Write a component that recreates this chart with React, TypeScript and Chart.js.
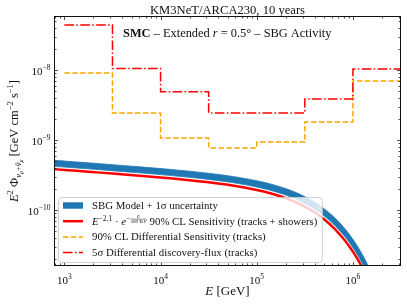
import React, { useEffect, useRef } from 'react';
import { Chart, registerables } from 'chart.js';

Chart.register(...registerables);

// ---------------- data ----------------
const binEdgesGeV = [1e3, 3.162e3, 1e4, 3.162e4, 1e5, 3.162e5, 1e6, 3.162e6];
const discoveryFlux5sigma = [4.4e-8, 1.05e-8, 4.9e-9, 2.43e-9, 2.43e-9, 3.85e-9, 1.03e-8];
const diffSensitivity90 = [9.06e-9, 2.43e-9, 1.07e-9, 7.7e-10, 9.36e-10, 1.81e-9, 6.96e-9];

const curveEnergyGeV = [
  707.9, 1000, 1778, 3162, 5623, 10000, 17783, 31623, 56234, 100000, 141254, 199526,
  281838, 398107, 501187, 630957, 794328, 891251, 1000000, 1122018, 1258925, 1412538,
  1584893, 1778279,
];
const cutoffSensitivity = [
  3.87e-10, 3.737e-10, 3.522e-10, 3.316e-10, 3.115e-10, 2.915e-10, 2.709e-10, 2.488e-10,
  2.236e-10, 1.934e-10, 1.72e-10, 1.479e-10, 1.212e-10, 9.28e-11, 7.38e-11, 5.56e-11,
  3.92e-11, 3.193e-11, 2.54e-11, 1.967e-11, 1.479e-11, 1.075e-11, 7.53e-12, 5.06e-12,
];
const sbgUpper = [
  5.181e-10, 5.003e-10, 4.716e-10, 4.44e-10, 4.173e-10, 3.907e-10, 3.634e-10, 3.343e-10,
  3.013e-10, 2.618e-10, 2.34e-10, 2.025e-10, 1.675e-10, 1.299e-10, 1.046e-10, 7.997e-11,
  5.742e-11, 4.728e-11, 3.807e-11, 2.99e-11, 2.283e-11, 1.689e-11, 1.206e-11, 8.28e-12,
];
const sbgLower = [
  4.248e-10, 4.102e-10, 3.867e-10, 3.64e-10, 3.42e-10, 3.201e-10, 2.976e-10, 2.735e-10,
  2.46e-10, 2.131e-10, 1.899e-10, 1.636e-10, 1.345e-10, 1.035e-10, 8.26e-11, 6.26e-11,
  4.44e-11, 3.63e-11, 2.9e-11, 2.256e-11, 1.706e-11, 1.247e-11, 8.8e-12, 5.95e-12,
];

const xTickExponents = [3, 4, 5, 6];
const yTickExponents = [-10, -9, -8];
const xRange = [780, 3.162e6];
const yRange = [1.585e-11, 5.9e-8];

const titleText = 'KM3NeT/ARCA230, 10 years';
const legendLabels = [
  'SBG Model + 1σ uncertainty',
  '90% CL Sensitivity (tracks + showers)',
  '90% CL Differential Sensitivity (tracks)',
  '5σ Differential discovery-flux (tracks)',
];

// ---------------- helpers ----------------
const SERIF = '"Liberation Serif", "DejaVu Serif", serif';
const f = (size: number, style = '') => `${style} ${size}px ${SERIF}`.trim();

const BLUE = '#1f77b4';
const RED = '#ff0000';
const ORANGE = '#ffa500';

type Seg = { t?: string; f: string; dy?: number; over?: boolean; frac?: [string, string] };

function segWidth(ctx: CanvasRenderingContext2D, s: Seg) {
  ctx.font = s.f;
  if (s.frac) return Math.max(ctx.measureText(s.frac[0]).width, ctx.measureText(s.frac[1]).width) + 1;
  return ctx.measureText(s.t || '').width;
}

function richWidth(ctx: CanvasRenderingContext2D, segs: Seg[]) {
  return segs.reduce((a, s) => a + segWidth(ctx, s), 0);
}

function drawRich(
  ctx: CanvasRenderingContext2D,
  x: number,
  y: number,
  segs: Seg[],
  align: 'left' | 'center' | 'right',
) {
  const widths = segs.map((s) => segWidth(ctx, s));
  const total = widths.reduce((a, b) => a + b, 0);
  let cx = align === 'left' ? x : align === 'center' ? x - total / 2 : x - total;
  ctx.textAlign = 'left';
  ctx.textBaseline = 'alphabetic';
  segs.forEach((s, i) => {
    ctx.font = s.f;
    const dy = s.dy || 0;
    if (s.frac) {
      const w = widths[i];
      const n = ctx.measureText(s.frac[0]).width;
      const d = ctx.measureText(s.frac[1]).width;
      const yc = y + dy;
      ctx.fillText(s.frac[0], cx + (w - n) / 2, yc - 1);
      ctx.fillText(s.frac[1], cx + (w - d) / 2, yc + 4);
      ctx.beginPath();
      ctx.lineWidth = 0.5;
      ctx.moveTo(cx + 0.3, yc);
      ctx.lineTo(cx + w - 0.3, yc);
      ctx.stroke();
    } else {
      ctx.fillText(s.t || '', cx, y + dy);
      if (s.over) {
        ctx.beginPath();
        ctx.lineWidth = 0.6;
        ctx.moveTo(cx + 0.8, y + dy - 5);
        ctx.lineTo(cx + widths[i] - 0.2, y + dy - 5);
        ctx.stroke();
      }
    }
    cx += widths[i];
  });
  return total;
}

const supDigits: Record<string, string> = { '-': '−' };
const expText = (e: number) => String(e).split('').map((c) => supDigits[c] || c).join('');

const decorPlugin = {
  id: 'decor',
  afterDraw(chart: any) {
    const ctx: CanvasRenderingContext2D = chart.ctx;
    const ca = chart.chartArea;
    const xs = chart.scales.x;
    const ys = chart.scales.y;
    ctx.save();
    ctx.fillStyle = '#000';
    ctx.strokeStyle = '#000';

    const L = Math.round(ca.left) + 0.5;
    const R = Math.round(ca.right) - 0.5;
    const T = Math.round(ca.top) + 0.5;
    const B = Math.round(ca.bottom) - 0.5;

    // ---- ticks ----
    ctx.lineWidth = 0.8;
    ctx.strokeStyle = '#222';
    const majorLen = 3.5;
    const minorLen = 2;
    ctx.beginPath();
    for (let e = 2; e <= 6; e++) {
      for (let m = 1; m <= 9; m++) {
        const v = m * Math.pow(10, e);
        if (v < xRange[0] || v > xRange[1]) continue;
        const px = Math.round(xs.getPixelForValue(v)) + 0.5;
        const len = m === 1 ? majorLen : minorLen;
        ctx.moveTo(px, B);
        ctx.lineTo(px, B - len);
        ctx.moveTo(px, T);
        ctx.lineTo(px, T + len);
      }
    }
    for (let e = -12; e <= -8; e++) {
      for (let m = 1; m <= 9; m++) {
        const v = m * Math.pow(10, e);
        if (v < yRange[0] || v > yRange[1]) continue;
        const py = Math.round(ys.getPixelForValue(v)) + 0.5;
        const len = m === 1 ? majorLen : minorLen;
        ctx.moveTo(L, py);
        ctx.lineTo(L + len, py);
        ctx.moveTo(R, py);
        ctx.lineTo(R - len, py);
      }
    }
    ctx.stroke();

    // ---- frame ----
    ctx.lineWidth = 1;
    ctx.strokeStyle = '#111';
    ctx.strokeRect(L, T, R - L, B - T);

    // ---- tick labels ----
    ctx.fillStyle = '#111';
    xTickExponents.forEach((e) => {
      const px = xs.getPixelForValue(Math.pow(10, e));
      drawRich(ctx, px, 283.5, [
        { t: '10', f: f(11) },
        { t: expText(e), f: f(7.5), dy: -5 },
      ], 'center');
    });
    yTickExponents.forEach((e) => {
      const py = ys.getPixelForValue(Math.pow(10, e));
      drawRich(ctx, 50.5, py + 5, [
        { t: '10', f: f(11) },
        { t: expText(e), f: f(7.5), dy: -5 },
      ], 'right');
    });

    // ---- title ----
    drawRich(ctx, (ca.left + ca.right) / 2, 14, [{ t: titleText, f: f(12.6) }], 'center');

    // ---- x label ----
    drawRich(ctx, (ca.left + ca.right) / 2, 295, [
      { t: 'E', f: f(13, 'italic') },
      { t: ' [GeV]', f: f(13) },
    ], 'center');

    // ---- y label ----
    ctx.save();
    ctx.translate(14, (ca.top + ca.bottom) / 2);
    ctx.rotate(-Math.PI / 2);
    drawRich(ctx, 0, 4, [
      { t: 'E', f: f(12.5, 'italic') },
      { t: '2', f: f(8.5), dy: -5 },
      { t: ' Φ', f: f(12.5) },
      { t: 'ν', f: f(8.5, 'italic'), dy: 3 },
      { t: 'μ', f: f(6, 'italic'), dy: 5 },
      { t: '+', f: f(8.5), dy: 3 },
      { t: 'ν', f: f(8.5, 'italic'), dy: 3, over: true },
      { t: 'μ', f: f(6, 'italic'), dy: 5 },
      { t: ' [GeV cm', f: f(12.5) },
      { t: '−2', f: f(8.5), dy: -5 },
      { t: ' s', f: f(12.5) },
      { t: '−1', f: f(8.5), dy: -5 },
      { t: ']', f: f(12.5) },
    ], 'center');
    ctx.restore();

    // ---- annotation ----
    drawRich(ctx, 123, 37, [
      { t: 'SMC', f: f(12.4, 'bold') },
      { t: ' – Extended ', f: f(12.4) },
      { t: 'r', f: f(12.4, 'italic') },
      { t: ' = 0.5° – SBG Activity', f: f(12.4) },
    ], 'left');

    // ---- legend ----
    const fs = 10.8;
    const rows: Seg[][] = [
      [{ t: legendLabels[0], f: f(fs) }],
      [
        { t: 'E', f: f(fs, 'italic') },
        { t: '−2.1', f: f(7.5), dy: -4 },
        { t: ' · ', f: f(fs) },
        { t: 'e', f: f(fs, 'italic') },
        { t: '−', f: f(7.5), dy: -4 },
        { frac: ['E', '500 TeV'], f: f(4.8, 'italic'), dy: -5.5 },
        { t: ' ' + legendLabels[1], f: f(fs) },
      ],
      [{ t: legendLabels[2], f: f(fs) }],
      [{ t: legendLabels[3], f: f(fs) }],
    ];
    const textX = 92;
    const maxW = Math.max(...rows.map((r) => richWidth(ctx, r)));
    const bx = 58.5;
    const by = 197.5;
    const bw = textX + maxW + 5 - bx;
    const bh = 65;
    ctx.beginPath();
    const rad = 3;
    ctx.moveTo(bx + rad, by);
    ctx.arcTo(bx + bw, by, bx + bw, by + bh, rad);
    ctx.arcTo(bx + bw, by + bh, bx, by + bh, rad);
    ctx.arcTo(bx, by + bh, bx, by, rad);
    ctx.arcTo(bx, by, bx + bw, by, rad);
    ctx.closePath();
    ctx.fillStyle = 'rgba(255,255,255,0.8)';
    ctx.fill();
    ctx.lineWidth = 1;
    ctx.strokeStyle = 'rgba(204,204,204,0.9)';
    ctx.stroke();

    const rowY = [205.5, 221.2, 236.9, 252.6];
    const hx0 = 63;
    const hx1 = 83;
    // handles
    ctx.fillStyle = BLUE;
    ctx.fillRect(hx0, rowY[0] - 3.2, hx1 - hx0, 6.4);
    ctx.lineCap = 'butt';
    ctx.strokeStyle = RED;
    ctx.lineWidth = 2.5;
    ctx.setLineDash([]);
    ctx.beginPath();
    ctx.moveTo(hx0, rowY[1]);
    ctx.lineTo(hx1, rowY[1]);
    ctx.stroke();
    ctx.strokeStyle = ORANGE;
    ctx.lineWidth = 1.5;
    ctx.setLineDash([5.5, 2.4]);
    ctx.beginPath();
    ctx.moveTo(hx0, rowY[2]);
    ctx.lineTo(hx1, rowY[2]);
    ctx.stroke();
    ctx.strokeStyle = RED;
    ctx.setLineDash([9.6, 2.4, 1.5, 2.4]);
    ctx.beginPath();
    ctx.moveTo(hx0, rowY[3]);
    ctx.lineTo(hx1, rowY[3]);
    ctx.stroke();
    ctx.setLineDash([]);

    ctx.fillStyle = '#111';
    ctx.strokeStyle = '#111';
    rows.forEach((r, i) => drawRich(ctx, textX, rowY[i] + 3.5, r, 'left'));

    ctx.restore();
  },
};

function stepPoints(values: number[]) {
  const pts = values.map((v, i) => ({ x: binEdgesGeV[i], y: v }));
  pts.push({ x: binEdgesGeV[binEdgesGeV.length - 1], y: values[values.length - 1] });
  return pts;
}

export default function App() {
  const ref = useRef<HTMLCanvasElement | null>(null);

  useEffect(() => {
    document.body.style.margin = '0';
    const canvas = ref.current;
    if (!canvas) return;
    const curve = (arr: number[]) => curveEnergyGeV.map((x, i) => ({ x, y: arr[i] }));
    const chart = new Chart(canvas, {
      type: 'line',
      data: {
        datasets: [
          {
            label: 'upper',
            data: curve(sbgUpper),
            borderColor: BLUE,
            borderWidth: 0.8,
            backgroundColor: BLUE,
            fill: '+1',
            pointRadius: 0,
            tension: 0.3,
            order: 10,
          },
          {
            label: 'lower',
            data: curve(sbgLower),
            borderColor: BLUE,
            borderWidth: 0.8,
            backgroundColor: BLUE,
            fill: false,
            pointRadius: 0,
            tension: 0.3,
            order: 9,
          },
          {
            label: 'cutoff',
            data: curve(cutoffSensitivity),
            borderColor: RED,
            borderWidth: 2.5,
            fill: false,
            pointRadius: 0,
            tension: 0.3,
            order: 5,
          },
          {
            label: 'diff',
            data: stepPoints(diffSensitivity90),
            borderColor: ORANGE,
            borderWidth: 1.5,
            borderDash: [5.5, 2.4],
            stepped: 'before',
            fill: false,
            pointRadius: 0,
            order: 2,
          },
          {
            label: 'disc',
            data: stepPoints(discoveryFlux5sigma),
            borderColor: RED,
            borderWidth: 1.5,
            borderDash: [9.6, 2.4, 1.5, 2.4],
            stepped: 'before',
            fill: false,
            pointRadius: 0,
            order: 1,
          },
        ],
      },
      options: {
        responsive: false,
        devicePixelRatio: 1,
        animation: false,
        parsing: false as any,
        layout: { padding: { left: 54, top: 16, right: 6, bottom: 38 } },
        plugins: {
          legend: { display: false },
          title: { display: false },
          tooltip: { enabled: false },
        },
        scales: {
          x: { type: 'logarithmic', min: xRange[0], max: xRange[1], display: false },
          y: { type: 'logarithmic', min: yRange[0], max: yRange[1], display: false },
        },
      },
      plugins: [decorPlugin],
    } as any);
    return () => chart.destroy();
  }, []);

  return <canvas ref={ref} width={407} height={304} style={{ display: 'block' }} />;
}
